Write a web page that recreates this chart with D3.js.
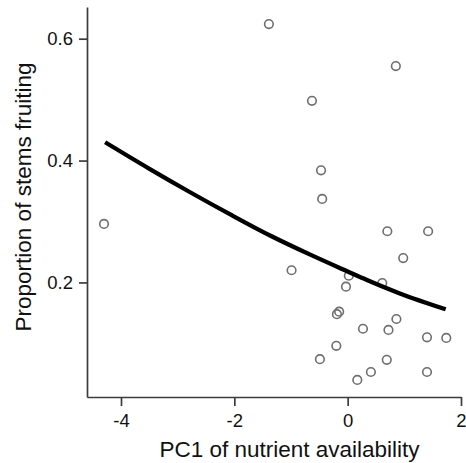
<!DOCTYPE html>
<html>
<head>
<meta charset="utf-8">
<script src="https://cdn.jsdelivr.net/npm/d3@7"></script>
<style>
    body { margin: 0; background: #fff; }
    svg { display: block; font-family: "Liberation Sans", Arial, Helvetica, sans-serif; }
</style>
</head>
<body>
<div id="main"></div>
<script>
const ctx = {
    WIDTH: 466,
    HEIGHT: 463,
};

// observed plots: PC1 score and proportion of stems fruiting
const pc1 = [-4.30, -1.39, 0.85, -0.63, -0.47, -0.45, 0.70, 1.42, 0.98, -0.99,
    0.02, -0.03, 0.61, -0.15, -0.19, 0.86, 0.27, 0.72, 1.40, 1.74,
    -0.20, -0.49, 0.69, 0.41, 0.17, 1.40];
const fruiting = [0.296, 0.624, 0.555, 0.498, 0.384, 0.337, 0.284, 0.284, 0.240, 0.220,
    0.211, 0.193, 0.199, 0.152, 0.148, 0.140, 0.124, 0.122, 0.110, 0.109,
    0.096, 0.074, 0.073, 0.053, 0.040, 0.053];

// fitted curve
const fitX = [-4.28, -3.49, -2.78, -2.08, -1.37, -0.67, 0, 0.34, 0.92, 1.73];
const fitY = [0.430, 0.386, 0.348, 0.312, 0.277, 0.246, 0.218, 0.204, 0.182, 0.156];

const xTicks = [-4, -2, 0, 2];
const yTicks = [0.2, 0.4, 0.6];

function createViz() {
    const svg = d3.select("#main").append("svg")
        .attr("width", ctx.WIDTH)
        .attr("height", ctx.HEIGHT);

    const x = d3.scaleLinear().domain([-4.6, 2.0]).range([87, 461]);
    const y = d3.scaleLinear().domain([0.012, 0.652]).range([397, 7]);

    // axes
    const xAxis = svg.append("g")
        .attr("transform", "translate(0,397)")
        .call(d3.axisBottom(x).tickValues(xTicks).tickSize(9).tickSizeOuter(0).tickPadding(8)
            .tickFormat(d3.format("d")));
    const yAxis = svg.append("g")
        .attr("transform", "translate(87,0)")
        .call(d3.axisLeft(y).tickValues(yTicks).tickSize(8).tickSizeOuter(0).tickPadding(6)
            .tickFormat(d3.format(".1f")));

    [xAxis, yAxis].forEach(g => {
        g.select(".domain").attr("stroke", "#3c3c3c").attr("stroke-width", 1.7);
        g.selectAll(".tick line").attr("stroke", "#3c3c3c").attr("stroke-width", 1.7);
        g.selectAll(".tick text")
            .attr("fill", "#111")
            .style("font-size", "18.5px")
            .style("font-family", "\"Liberation Sans\", Arial, sans-serif");
    });
    // plain hyphen for negatives, as in the original
    xAxis.selectAll(".tick text").text(d => String(d));

    // points
    const pts = pc1.map((v, i) => ({ x: v, y: fruiting[i] }));
    svg.append("g").selectAll("circle")
        .data(pts)
        .enter().append("circle")
        .attr("cx", d => x(d.x))
        .attr("cy", d => y(d.y))
        .attr("r", 4.3)
        .attr("fill", "none")
        .attr("stroke", "#6e6e6e")
        .attr("stroke-width", 1.6);

    // fitted line
    const line = d3.line()
        .x(d => x(d[0]))
        .y(d => y(d[1]))
        .curve(d3.curveMonotoneX);
    svg.append("path")
        .datum(fitX.map((v, i) => [v, fitY[i]]))
        .attr("d", line)
        .attr("fill", "none")
        .attr("stroke", "#000")
        .attr("stroke-width", 4.3);

    // axis titles
    svg.append("text")
        .attr("x", 289.5)
        .attr("y", 457)
        .attr("text-anchor", "middle")
        .attr("fill", "#111")
        .style("font-size", "22.5px")
        .text("PC1 of nutrient availability");

    svg.append("text")
        .attr("transform", "translate(31,197) rotate(-90)")
        .attr("text-anchor", "middle")
        .attr("fill", "#111")
        .style("font-size", "22.5px")
        .text("Proportion of stems fruiting");
}

createViz();
</script>
</body>
</html>
